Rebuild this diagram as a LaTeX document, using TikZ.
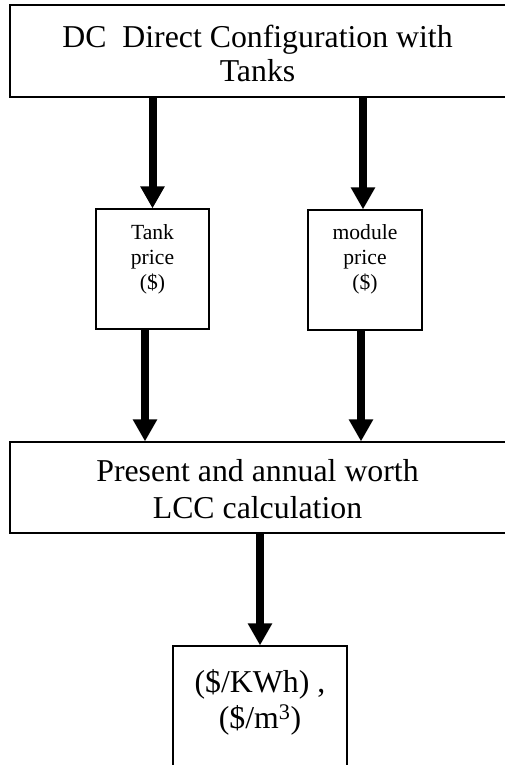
\documentclass[tikz,border=0pt]{standalone}
\usepackage{fontspec}
\setmainfont{Liberation Serif}
\usetikzlibrary{arrows.meta}
\tikzset{
  flowbox/.style={draw, line width=1.2pt, inner sep=0pt},
  flowtext/.style={anchor=north, align=center, inner sep=0pt},
  flowarrow/.style={line width=8pt, -{Triangle[width=23pt,length=22pt]}},
}
\begin{document}
\begin{tikzpicture}[x=1pt,y=-1pt]
        \useasboundingbox (0,0) rectangle (504,765);
        \node[flowbox, minimum width=500pt, minimum height=92pt] (dc) at (260,51) {};
        \node[flowbox, minimum width=113pt, minimum height=120pt] (tank) at (152.5,269) {};
        \node[flowbox, minimum width=114pt, minimum height=120pt] (module) at (365,270) {};
        \node[flowbox, minimum width=500pt, minimum height=91pt] (lcc) at (260,487.5) {};
        \node[flowbox, minimum width=174pt, minimum height=139pt] (cost) at (260,715.5) {};
        \node[flowtext, font=\fontsize{31.8}{34}\selectfont] (dctext) at (257.5,25) {DC~ Direct Configuration with\\Tanks};
        \node[flowtext, font=\fontsize{21.6}{25}\selectfont] (tanktext) at (152.5,224) {Tank\\price\\(\$)};
        \node[flowtext, font=\fontsize{21.6}{25}\selectfont] (moduletext) at (365,224) {module\\price\\(\$)};
        \node[flowtext, font=\fontsize{31.8}{37}\selectfont] (lcctext) at (257.5,459.5) {Present and annual worth\\LCC calculation};
        \node[flowtext, font=\fontsize{31.8}{36}\selectfont] (costtext) at (260,669) {(\$/KWh) ,\\(\$/m\textsuperscript{3})};
        \draw[flowarrow] (tank.north |- dc.south) -- (tank.north);
        \draw[flowarrow] ([xshift=-2pt]module.north |- dc.south) -- ([xshift=-2pt]module.north);
        \draw[flowarrow] ([xshift=-7.5pt]tank.south) -- ([xshift=-7.5pt]tank.south |- lcc.north);
        \draw[flowarrow] ([xshift=-4pt]module.south) -- ([xshift=-4pt]module.south |- lcc.north);
        \draw[flowarrow] (cost.north |- lcc.south) -- (cost.north);
\end{tikzpicture}
\end{document}
